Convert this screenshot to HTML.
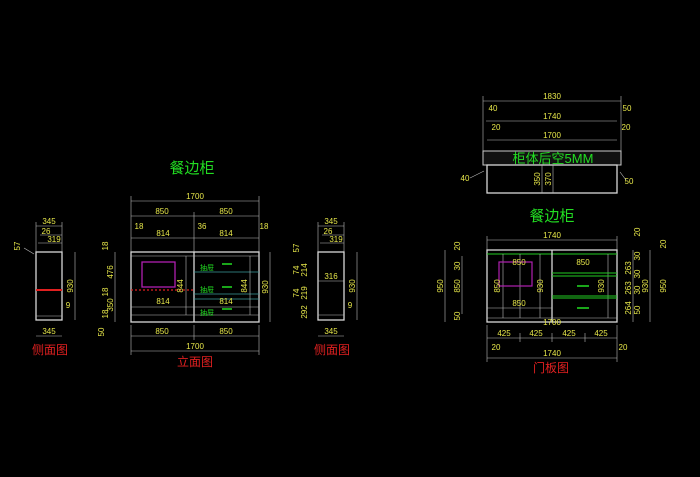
<!DOCTYPE html>
<html><head><meta charset="utf-8"><style>
html,body{margin:0;padding:0;background:#000;width:700px;height:477px;overflow:hidden}
svg{display:block}
text{font-family:"Liberation Sans","Noto Sans CJK SC",sans-serif}
.d{fill:#e8e84a;font-size:8px;text-anchor:middle}
.g{fill:#22dd22;text-anchor:middle}
.r{fill:#e02020;font-size:12px;text-anchor:middle}
.w{stroke:#d8d8d8;fill:none;stroke-width:1.3}
.l{stroke:#bbb;stroke-width:0.6;fill:none}
</style></head><body>
<svg width="700" height="477" viewBox="0 0 700 477" xmlns="http://www.w3.org/2000/svg">
<rect width="700" height="477" fill="#000"/>

<!-- ===== Left side view ===== -->
<g>
<line class="l" x1="36" y1="226" x2="62" y2="226"/><text class="d" x="49" y="224">345</text>
<line class="l" x1="40" y1="235" x2="62" y2="235"/><text class="d" x="46" y="234">26</text>
<line class="l" x1="38" y1="243" x2="62" y2="243"/><text class="d" x="54" y="242">319</text>
<line class="l" x1="36" y1="222" x2="36" y2="252"/><line class="l" x1="62" y1="222" x2="62" y2="252"/>
<text class="d" transform="translate(20,246) rotate(-90)">57</text>
<line class="l" x1="24" y1="248" x2="34" y2="254"/>
<rect class="w" x="36" y="252" width="26" height="68"/>
<line class="l" x1="36" y1="316" x2="62" y2="316"/>
<line x1="36" y1="290" x2="62" y2="290" stroke="#e02020" stroke-width="2"/>
<text class="d" x="68" y="308">9</text>
<line class="l" x1="75" y1="252" x2="75" y2="320"/>
<text class="d" transform="translate(73,286) rotate(-90)">930</text>
<line class="l" x1="36" y1="336" x2="62" y2="336"/><text class="d" x="49" y="334">345</text>
<text class="r" x="50" y="354">侧面图</text>
</g>

<!-- ===== Front elevation ===== -->
<g>
<text class="g" x="192" y="173" font-size="15">餐边柜</text>
<line class="l" x1="131" y1="201" x2="259" y2="201"/><text class="d" x="195" y="199">1700</text>
<line class="l" x1="131" y1="216" x2="259" y2="216"/><text class="d" x="162" y="214">850</text><text class="d" x="226" y="214">850</text>
<line class="l" x1="131" y1="238" x2="259" y2="238"/><text class="d" x="163" y="236">814</text><text class="d" x="226" y="236">814</text>
<text class="d" x="139" y="229">18</text><text class="d" x="202" y="229">36</text><text class="d" x="264" y="229">18</text>
<line class="l" x1="131" y1="196" x2="131" y2="252"/><line class="l" x1="259" y1="196" x2="259" y2="252"/><line class="l" x1="194" y1="212" x2="194" y2="252"/>
<rect class="w" x="131" y="252" width="128" height="70"/>
<line class="w" x1="194" y1="252" x2="194" y2="322"/>
<line class="l" x1="131" y1="256" x2="259" y2="256" stroke="#4a9"/>
<line x1="194" y1="272" x2="259" y2="272" stroke="#3a9a9a" stroke-width="0.8"/>
<line x1="194" y1="294" x2="259" y2="294" stroke="#3a9a9a" stroke-width="0.8"/>
<line x1="194" y1="299" x2="259" y2="299" stroke="#3a9a9a" stroke-width="0.8"/>
<line class="l" x1="131" y1="307" x2="259" y2="307"/>
<line class="l" x1="131" y1="315" x2="259" y2="315"/>
<line class="l" x1="186" y1="256" x2="186" y2="315"/><line class="l" x1="250" y1="256" x2="250" y2="315"/>
<rect x="142" y="262" width="33" height="25" fill="none" stroke="#b020b0" stroke-width="1.3"/>
<line x1="131" y1="290" x2="194" y2="290" stroke="#e02020" stroke-width="1.3" stroke-dasharray="2,2"/>
<text class="d" transform="translate(183,286) rotate(-90)">844</text>
<text class="d" transform="translate(247,286) rotate(-90)">844</text>
<text class="d" x="163" y="304">814</text><text class="d" x="226" y="304">814</text>
<line x1="222" y1="264" x2="232" y2="264" stroke="#22dd22" stroke-width="1.5"/>
<line x1="222" y1="287" x2="232" y2="287" stroke="#22dd22" stroke-width="1.5"/>
<line x1="222" y1="309" x2="232" y2="309" stroke="#22dd22" stroke-width="1.5"/>
<text x="207" y="270" fill="#22dd22" font-size="7" text-anchor="middle">抽屉</text>
<text x="207" y="292" fill="#22dd22" font-size="7" text-anchor="middle">抽屉</text>
<text x="207" y="315" fill="#22dd22" font-size="7" text-anchor="middle">抽屉</text>
<line class="l" x1="270" y1="252" x2="270" y2="322"/><text class="d" transform="translate(268,287) rotate(-90)">930</text>
<line class="l" x1="115" y1="252" x2="115" y2="322"/>
<text class="d" transform="translate(108,246) rotate(-90)">18</text>
<text class="d" transform="translate(113,272) rotate(-90)">476</text>
<text class="d" transform="translate(108,292) rotate(-90)">18</text>
<text class="d" transform="translate(113,305) rotate(-90)">350</text>
<text class="d" transform="translate(108,314) rotate(-90)">18</text>
<text class="d" transform="translate(104,332) rotate(-90)">50</text>
<line class="l" x1="131" y1="336" x2="259" y2="336"/><text class="d" x="162" y="334">850</text><text class="d" x="226" y="334">850</text>
<line class="l" x1="131" y1="351" x2="259" y2="351"/><text class="d" x="195" y="349">1700</text>
<line class="l" x1="131" y1="325" x2="131" y2="355"/><line class="l" x1="259" y1="325" x2="259" y2="355"/><line class="l" x1="194" y1="325" x2="194" y2="340"/>
<text class="r" x="195" y="366">立面图</text>
</g>

<!-- ===== Right side view ===== -->
<g>
<line class="l" x1="318" y1="226" x2="344" y2="226"/><text class="d" x="331" y="224">345</text>
<line class="l" x1="322" y1="235" x2="344" y2="235"/><text class="d" x="328" y="234">26</text>
<line class="l" x1="320" y1="243" x2="344" y2="243"/><text class="d" x="336" y="242">319</text>
<line class="l" x1="318" y1="222" x2="318" y2="252"/><line class="l" x1="344" y1="222" x2="344" y2="252"/>
<rect class="w" x="318" y="252" width="26" height="68"/>
<line class="l" x1="318" y1="281" x2="344" y2="281"/>
<line class="l" x1="318" y1="315" x2="344" y2="315"/>
<text class="d" x="331" y="279">316</text>
<text class="d" x="350" y="308">9</text>
<line class="l" x1="357" y1="252" x2="357" y2="320"/><text class="d" transform="translate(355,286) rotate(-90)">930</text>
<text class="d" transform="translate(299,248) rotate(-90)">57</text>
<text class="d" transform="translate(299,270) rotate(-90)">74</text>
<text class="d" transform="translate(307,270) rotate(-90)">214</text>
<text class="d" transform="translate(299,293) rotate(-90)">74</text>
<text class="d" transform="translate(307,293) rotate(-90)">219</text>
<text class="d" transform="translate(307,312) rotate(-90)">292</text>
<line class="l" x1="318" y1="336" x2="344" y2="336"/><text class="d" x="331" y="334">345</text>
<text class="r" x="332" y="354">侧面图</text>
</g>

<!-- ===== Top plan ===== -->
<g>
<line class="l" x1="483" y1="101" x2="621" y2="101"/><text class="d" x="552" y="99">1830</text>
<line class="l" x1="486" y1="121" x2="617" y2="121"/><text class="d" x="552" y="119">1740</text>
<line class="l" x1="487" y1="140" x2="617" y2="140"/><text class="d" x="552" y="138">1700</text>
<text class="d" x="493" y="111">40</text><text class="d" x="627" y="111">50</text>
<text class="d" x="496" y="130">20</text><text class="d" x="626" y="130">20</text>
<line class="l" x1="483" y1="96" x2="483" y2="151"/><line class="l" x1="621" y1="96" x2="621" y2="151"/>
<rect x="483" y="151" width="138" height="14" fill="#111" stroke="#ccc" stroke-width="1"/>
<text class="g" x="553" y="163" font-size="13">柜体后空5MM</text>
<rect class="w" x="487" y="165" width="130" height="28"/>
<line class="l" x1="542" y1="165" x2="542" y2="193"/><line class="l" x1="553" y1="165" x2="553" y2="193"/>
<text class="d" transform="translate(540,179) rotate(-90)">350</text>
<text class="d" transform="translate(551,179) rotate(-90)">370</text>
<text class="d" x="465" y="181">40</text><line class="l" x1="470" y1="178" x2="484" y2="171"/>
<text class="d" x="629" y="184">50</text><line class="l" x1="620" y1="172" x2="626" y2="180"/>
</g>

<!-- ===== Door panel ===== -->
<g>
<text class="g" x="552" y="221" font-size="15">餐边柜</text>
<line class="l" x1="487" y1="240" x2="617" y2="240"/><text class="d" x="552" y="238">1740</text>
<line class="l" x1="487" y1="236" x2="487" y2="250"/><line class="l" x1="617" y1="236" x2="617" y2="250"/>
<rect class="w" x="487" y="250" width="130" height="72"/>
<line x1="487" y1="254" x2="617" y2="254" stroke="#22cc22" stroke-width="1"/>
<line class="l" x1="503" y1="254" x2="503" y2="318"/><line class="l" x1="520" y1="254" x2="520" y2="318"/>
<line class="l" x1="540" y1="254" x2="540" y2="318"/><line class="w" x1="552" y1="250" x2="552" y2="322"/>
<line class="l" x1="608" y1="254" x2="608" y2="318"/>
<line class="l" x1="487" y1="308" x2="552" y2="308"/><line class="l" x1="487" y1="318" x2="617" y2="318"/>
<rect x="499" y="262" width="33" height="24" fill="none" stroke="#b020b0" stroke-width="1.2"/>
<line x1="552" y1="273" x2="617" y2="273" stroke="#22cc22"/><line x1="552" y1="276" x2="617" y2="276" stroke="#22cc22"/>
<line x1="552" y1="296" x2="617" y2="296" stroke="#22cc22"/><line x1="552" y1="298" x2="617" y2="298" stroke="#22cc22"/>
<line x1="577" y1="286" x2="589" y2="286" stroke="#22dd22" stroke-width="1.5"/>
<line x1="577" y1="308" x2="589" y2="308" stroke="#22dd22" stroke-width="1.5"/>
<text class="d" x="519" y="265">850</text><text class="d" x="583" y="265">850</text>
<text class="d" x="519" y="306">850</text><text class="d" x="552" y="325">1700</text>
<text class="d" transform="translate(500,286) rotate(-90)">850</text>
<text class="d" transform="translate(543,286) rotate(-90)">930</text>
<text class="d" transform="translate(604,286) rotate(-90)">930</text>
<line class="l" x1="445" y1="250" x2="445" y2="322"/><text class="d" transform="translate(443,286) rotate(-90)">950</text>
<line class="l" x1="462" y1="256" x2="462" y2="314"/><text class="d" transform="translate(460,286) rotate(-90)">850</text>
<text class="d" transform="translate(460,246) rotate(-90)">20</text>
<text class="d" transform="translate(460,266) rotate(-90)">30</text>
<text class="d" transform="translate(460,316) rotate(-90)">50</text>
<line class="l" x1="633" y1="250" x2="633" y2="322"/>
<line class="l" x1="650" y1="250" x2="650" y2="322"/>
<text class="d" transform="translate(640,232) rotate(-90)">20</text>
<text class="d" transform="translate(640,256) rotate(-90)">30</text>
<text class="d" transform="translate(631,268) rotate(-90)">263</text>
<text class="d" transform="translate(640,274) rotate(-90)">30</text>
<text class="d" transform="translate(631,288) rotate(-90)">263</text>
<text class="d" transform="translate(640,290) rotate(-90)">30</text>
<text class="d" transform="translate(631,308) rotate(-90)">264</text>
<text class="d" transform="translate(640,310) rotate(-90)">50</text>
<text class="d" transform="translate(648,286) rotate(-90)">930</text>
<text class="d" transform="translate(666,286) rotate(-90)">950</text>
<text class="d" transform="translate(666,244) rotate(-90)">20</text>
<line class="l" x1="487" y1="338" x2="617" y2="338"/>
<text class="d" x="504" y="336">425</text><text class="d" x="536" y="336">425</text><text class="d" x="569" y="336">425</text><text class="d" x="601" y="336">425</text>
<line class="l" x1="520" y1="333" x2="520" y2="342"/><line class="l" x1="552" y1="333" x2="552" y2="342"/><line class="l" x1="585" y1="333" x2="585" y2="342"/>
<text class="d" x="496" y="350">20</text><text class="d" x="623" y="350">20</text>
<line class="l" x1="487" y1="358" x2="617" y2="358"/><text class="d" x="552" y="356">1740</text>
<line class="l" x1="487" y1="325" x2="487" y2="362"/><line class="l" x1="617" y1="325" x2="617" y2="362"/>
<text class="r" x="551" y="372">门板图</text>
</g>
</svg>
</body></html>
